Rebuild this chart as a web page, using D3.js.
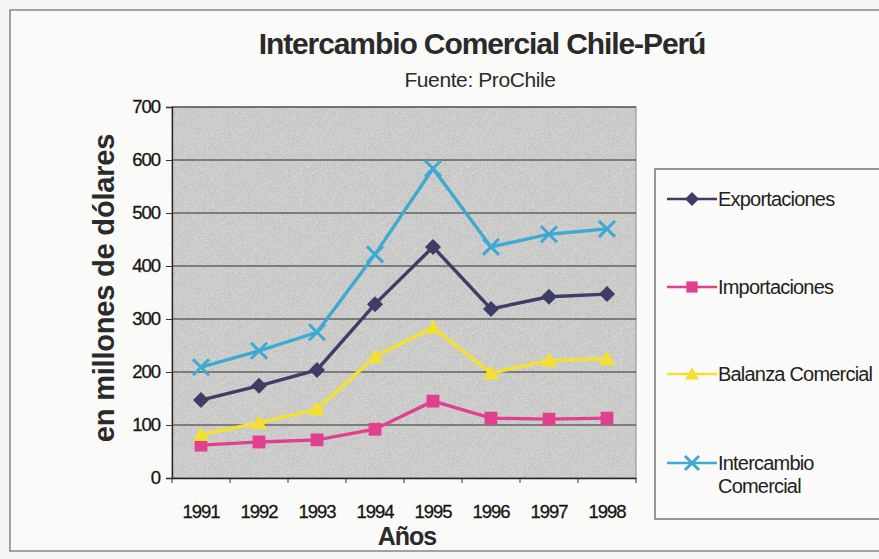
<!DOCTYPE html>
<html>
<head>
<meta charset="utf-8">
<script src="https://cdn.jsdelivr.net/npm/d3@7"></script>
<style>
  body { margin: 0; background: #f5f5f3; }
  svg { display: block; font-family: "Liberation Sans", Arial, sans-serif; }
</style>
</head>
<body>
<div id="chart"></div>
<script>
// chart data
const years = ['1991', '1992', '1993', '1994', '1995', '1996', '1997', '1998'];
const exportaciones = [147, 174, 204, 328, 436, 319, 342, 347];
const importaciones = [62, 68, 72, 92, 145, 113, 111, 113];
const balanza = [82, 104, 130, 229, 284, 198, 222, 225];
const intercambio = [209, 240, 275, 422, 584, 436, 460, 470];
const yTicks = [0, 100, 200, 300, 400, 500, 600, 700];

const series = [
  { name: 'Exportaciones', values: exportaciones, color: '#3d3d66', marker: 'diamond' },
  { name: 'Importaciones', values: importaciones, color: '#e0408e', marker: 'square' },
  { name: 'Balanza Comercial', values: balanza, color: '#f4e033', marker: 'triangle' },
  { name: 'Intercambio Comercial', values: intercambio, color: '#3ea9d2', marker: 'cross' },
];

const width = 879, height = 559;
const plot = { left: 172, right: 636, top: 107, bottom: 478 };

const svg = d3.select('#chart').append('svg')
  .attr('width', width)
  .attr('height', height);

// speckled grey fill for the plot area
const defs = svg.append('defs');
const f = defs.append('filter').attr('id', 'grain').attr('x', 0).attr('y', 0).attr('width', 1).attr('height', 1);
f.append('feTurbulence').attr('type', 'fractalNoise').attr('baseFrequency', 1.6).attr('numOctaves', 2).attr('result', 'n');
f.append('feColorMatrix').attr('in', 'n').attr('type', 'matrix')
  .attr('values', '1.4 0 0 0 -0.05  1.4 0 0 0 -0.05  1.4 0 0 0 -0.05  0 0 0 0 0.22').attr('result', 'g');
f.append('feComposite').attr('in', 'g').attr('in2', 'SourceGraphic').attr('operator', 'atop');

// outer frame
svg.append('rect').attr('x', 10).attr('y', 10).attr('width', 900).attr('height', 541)
  .attr('fill', '#fafaf8').attr('stroke', '#6a6a6a').attr('stroke-width', 1.2);

const x = d3.scaleBand().domain(years).range([plot.left, plot.right]);
const y = d3.scaleLinear().domain([0, 700]).range([plot.bottom, plot.top]);

svg.append('rect')
  .attr('x', plot.left).attr('y', plot.top)
  .attr('width', plot.right - plot.left).attr('height', plot.bottom - plot.top)
  .attr('fill', '#c9c9c7').attr('filter', 'url(#grain)');
svg.append('rect')
  .attr('x', plot.left).attr('y', plot.top)
  .attr('width', plot.right - plot.left).attr('height', plot.bottom - plot.top)
  .attr('fill', 'none').attr('stroke', '#8a8a8a');

// gridlines
svg.append('g').selectAll('line').data(yTicks.slice(1)).join('line')
  .attr('x1', plot.left).attr('x2', plot.right)
  .attr('y1', d => y(d)).attr('y2', d => y(d))
  .attr('stroke', '#2e2e2e').attr('stroke-width', 1);

// axes
const yAxis = svg.append('g').attr('transform', `translate(${plot.left},0)`)
  .call(d3.axisLeft(y).tickValues(yTicks).tickSize(6).tickPadding(6));
const xAxis = svg.append('g').attr('transform', `translate(0,${plot.bottom})`)
  .call(d3.axisBottom(x).tickSize(0).tickPadding(27));
xAxis.selectAll('.tick').append('line')
  .attr('x1', x.bandwidth() / 2).attr('x2', x.bandwidth() / 2)
  .attr('y1', 0).attr('y2', 5).attr('stroke', '#333');
xAxis.append('line').attr('x1', plot.left).attr('x2', plot.left).attr('y1', 0).attr('y2', 5).attr('stroke', '#333');
[yAxis, xAxis].forEach(a => {
  a.select('.domain').attr('stroke', '#222').attr('stroke-width', 1.3);
  a.selectAll('text').attr('fill', '#151515').style('font-size', '18.5px').attr('letter-spacing', '-1px')
    .attr('stroke', '#151515').attr('stroke-width', 0.3);
  a.selectAll('.tick line').attr('stroke', '#333');
});

// markers
function drawMarker(sel, type, color, s) {
  if (type === 'diamond') {
    sel.append('path').attr('d', `M0,${-s}L${s},0L0,${s}L${-s},0Z`).attr('fill', color);
  } else if (type === 'square') {
    sel.append('rect').attr('x', -s * 0.8).attr('y', -s * 0.8).attr('width', s * 1.6).attr('height', s * 1.6).attr('fill', color);
  } else if (type === 'triangle') {
    sel.append('path').attr('d', `M0,${-s}L${s},${s * 0.8}L${-s},${s * 0.8}Z`).attr('fill', color);
  } else {
    sel.append('path').attr('d', `M${-s},${-s}L${s},${s}M${-s},${s}L${s},${-s}`)
      .attr('stroke', color).attr('stroke-width', 3).attr('fill', 'none');
  }
}

const line = d3.line().x((d, i) => x(years[i]) + x.bandwidth() / 2).y(d => y(d));

series.forEach(s => {
  const g = svg.append('g');
  g.append('path').datum(s.values).attr('d', line)
    .attr('fill', 'none').attr('stroke', s.color).attr('stroke-width', 3.4);
  s.values.forEach((v, i) => {
    const m = g.append('g').attr('transform', `translate(${x(years[i]) + x.bandwidth() / 2},${y(v)})`);
    drawMarker(m, s.marker, s.color, 8);
  });
});

// titles
svg.append('text').attr('x', 482).attr('y', 54).attr('text-anchor', 'middle')
  .style('font-size', '30px').style('font-weight', 'bold').attr('letter-spacing', '-1.1px')
  .attr('fill', '#2a2a2a').text('Intercambio Comercial Chile-Perú');
svg.append('text').attr('x', 480).attr('y', 87).attr('text-anchor', 'middle')
  .style('font-size', '21px').attr('letter-spacing', '-0.4px')
  .attr('fill', '#2a2a2a').text('Fuente: ProChile');
svg.append('text').attr('transform', 'translate(114,288) rotate(-90)').attr('text-anchor', 'middle')
  .style('font-size', '29px').style('font-weight', 'bold').attr('letter-spacing', '-0.2px')
  .attr('fill', '#2a2a2a').text('en millones de dólares');
svg.append('text').attr('x', 407).attr('y', 545).attr('text-anchor', 'middle')
  .style('font-size', '25px').style('font-weight', 'bold').attr('letter-spacing', '-1px')
  .attr('fill', '#2a2a2a').text('Años');

// legend
svg.append('rect').attr('x', 655).attr('y', 169).attr('width', 260).attr('height', 350)
  .attr('fill', '#fafaf8').attr('stroke', '#555').attr('stroke-width', 1.2);
const legendY = [199, 287, 374, 463];
series.forEach((s, i) => {
  const g = svg.append('g').attr('transform', `translate(667,${legendY[i]})`);
  g.append('line').attr('x1', 0).attr('x2', 50).attr('stroke', s.color).attr('stroke-width', 2.5);
  const m = g.append('g').attr('transform', 'translate(25,0)');
  drawMarker(m, s.marker, s.color, 7);
  const t = g.append('text').attr('x', 51).attr('y', 7)
    .style('font-size', '20px').attr('letter-spacing', '-0.8px').attr('fill', '#222');
  if (s.name === 'Intercambio Comercial') {
    t.append('tspan').attr('x', 51).text('Intercambio');
    t.append('tspan').attr('x', 51).attr('dy', 23).text('Comercial');
  } else {
    t.text(s.name);
  }
});
</script>
</body>
</html>
